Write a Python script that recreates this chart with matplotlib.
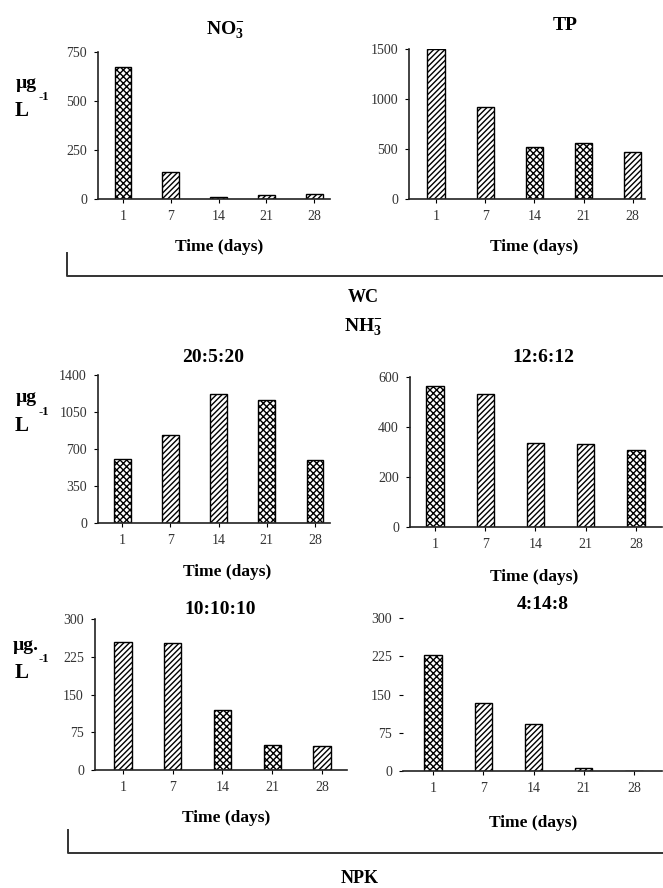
import matplotlib
matplotlib.use('Agg')
import matplotlib.pyplot as plt
from matplotlib.lines import Line2D

# Day labels shared by every panel
days = ['1', '7', '14', '21', '28']

# concentrations (ug L-1)
no3_wc = [673, 138, 10, 18, 28]
tp_wc = [1500, 920, 520, 560, 467]
nh3_20_5_20 = [610, 830, 1220, 1160, 595]
nh3_12_6_12 = [562, 532, 336, 332, 309]
nh3_10_10_10 = [254, 253, 120, 50, 47]
nh3_4_14_8 = [227, 133, 93, 6, 0]

ticks_no3 = [0, 250, 500, 750]
ticks_tp = [0, 500, 1000, 1500]
ticks_20 = [0, 350, 700, 1050, 1400]
ticks_12 = [0, 200, 400, 600]
ticks_10 = [0, 75, 150, 225, 300]
ticks_4 = [0, 75, 150, 225, 300]

W, H = 663, 888
SERIF = ['Liberation Serif', 'DejaVu Serif']
plt.rcParams.update({
    'font.family': SERIF,
    'mathtext.fontset': 'custom',
    'mathtext.rm': 'Liberation Serif:bold',
    'mathtext.it': 'Liberation Serif:bold',
    'mathtext.bf': 'Liberation Serif:bold',
    'hatch.linewidth': 1.0,
})

fig = plt.figure(figsize=(W / 100, H / 100), dpi=100)

DIAG, CHECK = '//////', 'xxxxx'


def panel(box, xlim, values, yticks, hatches, left_spine=True):
    x0, y0, x1, y1 = box
    ax = fig.add_axes([x0 / W, 1 - y1 / H, (x1 - x0) / W, (y1 - y0) / H])
    pos = range(len(days))
    bars = ax.bar(pos, values, width=0.35, color='white', edgecolor='black',
                  linewidth=1.0)
    for b, h in zip(bars, hatches):
        b.set_hatch(h)
    ax.set_xlim(*xlim)
    ax.set_ylim(yticks[0], yticks[-1])
    ax.set_xticks(list(pos))
    ax.set_xticklabels(days)
    ax.set_yticks(yticks)
    for s in ('top', 'right'):
        ax.spines[s].set_visible(False)
    ax.spines['left'].set_visible(left_spine)
    for s in ('left', 'bottom'):
        ax.spines[s].set_linewidth(1.2)
        ax.spines[s].set_color('#222222')
    ax.tick_params(direction='out', length=3, width=0.8, labelsize=10,
                   labelcolor='#333333', pad=5)
    return ax


panel((98, 52, 330, 199), (-0.52, 4.33), no3_wc, ticks_no3,
      [CHECK, DIAG, DIAG, DIAG, DIAG])
panel((409, 49, 645, 199), (-0.55, 4.25), tp_wc, ticks_tp,
      [DIAG, DIAG, CHECK, CHECK, DIAG])
panel((98, 375, 330, 523), (-0.5, 4.31), nh3_20_5_20, ticks_20,
      [CHECK, DIAG, DIAG, CHECK, CHECK])
panel((410, 377, 662, 527), (-0.5, 4.52), nh3_12_6_12, ticks_12,
      [CHECK, DIAG, DIAG, DIAG, CHECK])
panel((95, 619, 347, 770), (-0.56, 4.5), nh3_10_10_10, ticks_10,
      [DIAG, DIAG, CHECK, CHECK, DIAG])
panel((403, 618, 662, 771), (-0.6, 4.56), nh3_4_14_8, ticks_4,
      [CHECK, DIAG, DIAG, DIAG, DIAG], left_spine=False)


def ftext(x, y, s, size, **kw):
    fig.text(x / W, 1 - y / H, s, fontsize=size, ha='center', va='center',
             fontweight='bold', **kw)


# panel titles
ftext(225, 30, r'NO$_3^{-}$', 14)
ftext(565, 25, 'TP', 14)
ftext(213, 358, '20:5:20', 14)
ftext(543, 358, '12:6:12', 14)
ftext(220, 610, '10:10:10', 14)
ftext(543, 604, '4:14:8', 14)

# x-axis titles
for x, y in [(219, 247), (534, 247), (227, 572), (534, 577),
             (226, 818), (533, 823)]:
    ftext(x, y, 'Time (days)', 12.5)

# y-axis units
for yy, g in [(83, '\u00b5g'), (398, '\u00b5g'), (645, '\u00b5g.')]:
    ftext(26, yy, g, 14)
    ftext(44, yy + 14, '-1', 9)
    ftext(22, yy + 28, 'L', 15)

# group labels
ftext(363, 297, 'WC', 13)
ftext(363, 327, r'NH$_3^{-}$', 14)
ftext(360, 878, 'NPK', 13)

# brackets
for xv, ytop, ybot in [(67, 253, 276), (68, 830, 853)]:
    fig.add_artist(Line2D([xv / W, xv / W, 1.0],
                          [1 - ytop / H, 1 - ybot / H, 1 - ybot / H],
                          color='#333333', linewidth=1.4))

fig.savefig('out.png', dpi=100)
